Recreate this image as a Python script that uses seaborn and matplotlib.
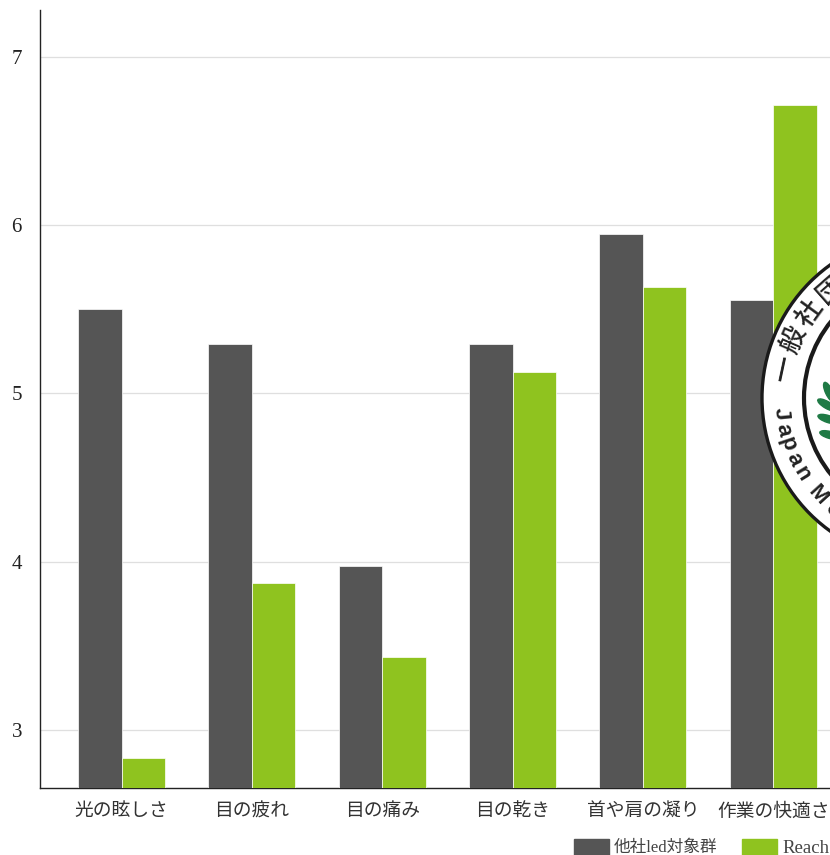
import numpy as np
import pandas as pd
import seaborn as sns
import matplotlib.pyplot as plt
from matplotlib.patches import Circle, Ellipse

categories = ["光の眩しさ", "目の疲れ", "目の痛み", "目の乾き", "首や肩の凝り", "作業の快適さ"]
other_led = [5.50, 5.295, 3.975, 5.295, 5.945, 5.555]
reach = [2.835, 3.875, 3.435, 5.125, 5.635, 6.715]
series_names = ["他社led対象群", "Reach"]
yticks = [3, 4, 5, 6, 7]

W, H = 830, 855

sns.set_theme(style="white")
plt.rcParams['font.family'] = ['Liberation Serif', 'Noto Sans CJK JP', 'DejaVu Sans']

df = pd.DataFrame({"cat": categories, series_names[0]: other_led, series_names[1]: reach})
df = df.melt(id_vars="cat", var_name="group", value_name="score")

fig = plt.figure(figsize=(W / 100, H / 100), dpi=100)
ax = fig.add_axes([40 / W, 1 - 788 / H, 790 / W, 778 / H])

sns.barplot(data=df, x="cat", y="score", hue="group", ax=ax, width=0.668, gap=0,
            palette=["#555555", "#8fc31f"], saturation=1, edgecolor="white", linewidth=0.5,
            zorder=3, legend=False)

ax.set_xlim(-0.626, 5.436)
ax.set_ylim(2.655, 7.279)
ax.set_yticks(yticks)
ax.set_xlabel("")
ax.set_ylabel("")
ax.grid(axis="y", color="#dfdfdf", lw=0.9)
ax.set_axisbelow(True)
sns.despine(ax=ax, right=True, top=True)
for s in ["left", "bottom"]:
    ax.spines[s].set_color("#222222")
    ax.spines[s].set_linewidth(1.0)
ax.tick_params(axis="y", labelsize=15, length=0, pad=13, colors="#222222")
ax.tick_params(axis="x", labelsize=13.5, length=0, pad=11, colors="#333333")

# legend, runs off the right edge like the original
ax_l = fig.add_axes([0, 0, 1, 1])
ax_l.set_xlim(0, W)
ax_l.set_ylim(H, 0)
ax_l.axis("off")
ax_l.add_patch(plt.Rectangle((574, 839), 35, 16, color="#555555"))
ax_l.add_patch(plt.Rectangle((742, 839), 35, 16, color="#8fc31f"))
ax_l.text(614, 848, series_names[0], fontsize=12, va="center", color="#444444")
ax_l.text(782, 848, series_names[1], fontsize=13.5, va="center", color="#444444")

# round seal stamped over the last bars
cx, cy = 926, 398
ax_l.add_patch(Circle((cx, cy), 164, fc="white", ec="#1a1a1a", lw=2.4))
ax_l.add_patch(Circle((cx, cy), 122, fc="white", ec="#1a1a1a", lw=3))


def arc_text(txt, angles, r, size):
    # top arc: letter tops point outwards
    for ch, a in zip(txt, angles):
        x = cx + r * np.cos(np.radians(a))
        y = cy - r * np.sin(np.radians(a))
        ax_l.text(x, y, ch, fontsize=size, rotation=a - 90, rotation_mode="anchor",
                  ha="center", va="center", color="#222222", family="Noto Sans CJK JP",
                  weight="medium")


def arc_text_low(txt, angles, r, size):
    # bottom arc: letter tops point at the centre
    for ch, a in zip(txt, angles):
        x = cx + r * np.cos(np.radians(a))
        y = cy - r * np.sin(np.radians(a))
        ax_l.text(x, y, ch, fontsize=size, rotation=a + 90, rotation_mode="anchor",
                  ha="center", va="center", color="#222222", family="Liberation Sans",
                  weight="bold")


arc_text("一般社団", [168, 156.5, 144, 131.5], 144, 19)
arc_text_low("Japan", [186, 192.5, 198.5, 205, 211.5], 146, 16)
arc_text_low("Me", [222, 230], 146, 16)

# leaves inside the seal
for (lx, ly, ang) in [(829, 392, 65), (827, 405, 30), (828, 419, 18), (830, 435, 15)]:
    ax_l.add_patch(Ellipse((lx, ly), 21, 7, angle=ang, color="#1f7a45", zorder=4))

ax_l.set_xlim(0, W)
ax_l.set_ylim(H, 0)
fig.savefig("out.png", dpi=100)
